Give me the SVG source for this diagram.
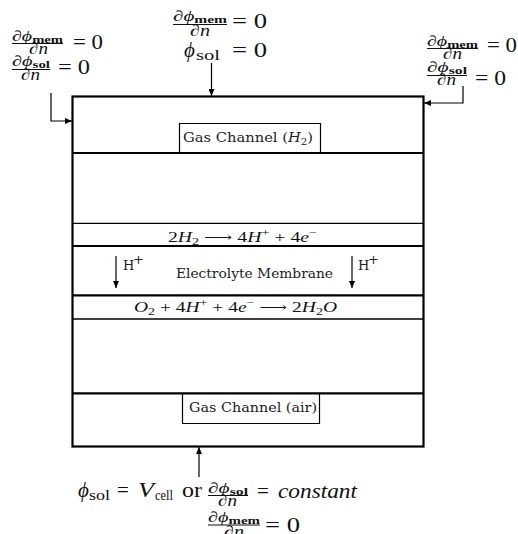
<svg xmlns="http://www.w3.org/2000/svg" width="518" height="534" viewBox="0 0 518 534">
<style>
.m{font-family:"Liberation Serif","DejaVu Serif",serif;fill:#111}
.it{font-style:italic}
.big{font-size:21px}
.num{font-size:15px}
.sub{font-size:11px;font-weight:bold}
.den{font-size:16px;font-style:italic}
.lbl{font-family:"DejaVu Serif","Liberation Serif",serif;font-size:13px;fill:#222}
.bar{stroke:#111;stroke-width:1}
.wall{stroke:#000;fill:none}
.conn{stroke:#000;stroke-width:1.2;fill:none}
</style>
<defs>
<marker id="ah" viewBox="0 0 7 6" refX="7" refY="3" markerWidth="7" markerHeight="6" markerUnits="userSpaceOnUse" orient="auto">
<path d="M0,0 L7,3 L0,6 z" fill="#000"/>
</marker>
</defs>
<rect width="518" height="534" fill="#fff"/>

<g id="cell">
<rect class="wall" x="72.5" y="96.5" width="351" height="350" stroke-width="2.2"/>
</g>
<g id="anode-gas-channel">
<line class="wall" x1="72" y1="153" x2="424" y2="153" stroke-width="2.2"/>
<path class="wall" d="M179.5,153 V123.5 H320.5 V153" stroke-width="1.2"/>
<text class="lbl" x="183" y="142" textLength="130" lengthAdjust="spacingAndGlyphs">Gas Channel (<tspan font-style="italic">H</tspan><tspan font-size="9" dy="3">2</tspan><tspan dy="-3">)</tspan></text>
</g>
<g id="anode-layer">
<line class="wall" x1="72" y1="223.3" x2="424" y2="223.3" stroke-width="1.3"/>
</g>
<g id="anode-reaction">
<line class="wall" x1="72" y1="246" x2="424" y2="246" stroke-width="2.2"/>
<text class="m" x="168" y="242" font-size="14" textLength="149" lengthAdjust="spacingAndGlyphs">2<tspan class="it">H</tspan><tspan font-size="10" dy="3">2</tspan><tspan dy="-3"> ⟶ 4</tspan><tspan class="it">H</tspan><tspan font-size="10" dy="-6">+</tspan><tspan dy="6"> + 4</tspan><tspan class="it">e</tspan><tspan font-size="10" dy="-6">−</tspan></text>
</g>
<g id="electrolyte-membrane">
<line class="wall" x1="72" y1="295.3" x2="424" y2="295.3" stroke-width="2.2"/>
<text class="lbl" x="176" y="278" textLength="157" lengthAdjust="spacingAndGlyphs">Electrolyte Membrane</text>
<text class="lbl" x="123" y="270" font-size="12">H</text>
<text class="lbl" x="133" y="264" font-size="12">+</text>
<text class="lbl" x="358" y="270" font-size="12">H</text>
<text class="lbl" x="368" y="264" font-size="12">+</text>
</g>
<g id="cathode-reaction">
<line class="wall" x1="72" y1="319" x2="424" y2="319" stroke-width="1.6"/>
<text class="m" x="134" y="312" font-size="14" textLength="203" lengthAdjust="spacingAndGlyphs"><tspan class="it">O</tspan><tspan font-size="10" dy="3">2</tspan><tspan dy="-3"> + 4</tspan><tspan class="it">H</tspan><tspan font-size="10" dy="-6">+</tspan><tspan dy="6"> + 4</tspan><tspan class="it">e</tspan><tspan font-size="10" dy="-6">−</tspan><tspan dy="6"> ⟶ 2</tspan><tspan class="it">H</tspan><tspan font-size="10" dy="3">2</tspan><tspan class="it" dy="-3">O</tspan></text>
</g>
<g id="cathode-layer">
<line class="wall" x1="72" y1="393.3" x2="424" y2="393.3" stroke-width="2.2"/>
</g>
<g id="cathode-gas-channel">
<path class="wall" d="M182.5,393 V423.5 H319.5 V393" stroke-width="1.2"/>
<text class="lbl" x="189" y="412" textLength="128" lengthAdjust="spacingAndGlyphs">Gas Channel (air)</text>
</g>

<g id="bc-top-left">
<text class="m num" x="12" y="41" textLength="51" lengthAdjust="spacingAndGlyphs"><tspan class="it">∂ϕ</tspan><tspan class="sub" dy="2">mem</tspan></text>
<line class="bar" x1="12" y1="43.5" x2="63" y2="43.5"/>
<text class="m den" x="29" y="54" textLength="19" lengthAdjust="spacingAndGlyphs">∂n</text>
<text class="m big" x="73" y="49" textLength="30" lengthAdjust="spacingAndGlyphs">= 0</text>
<text class="m num" x="12" y="66" textLength="38" lengthAdjust="spacingAndGlyphs"><tspan class="it">∂ϕ</tspan><tspan class="sub" dy="2">sol</tspan></text>
<line class="bar" x1="12" y1="69.5" x2="50" y2="69.5"/>
<text class="m den" x="21" y="80" textLength="19" lengthAdjust="spacingAndGlyphs">∂n</text>
<text class="m big" x="58" y="74" textLength="32" lengthAdjust="spacingAndGlyphs">= 0</text>
</g>
<g id="bc-top">
<text class="m num" x="173" y="21" textLength="54" lengthAdjust="spacingAndGlyphs"><tspan class="it">∂ϕ</tspan><tspan class="sub" dy="2">mem</tspan></text>
<line class="bar" x1="173" y1="24.5" x2="227" y2="24.5"/>
<text class="m den" x="190" y="36" textLength="20" lengthAdjust="spacingAndGlyphs">∂n</text>
<text class="m big" x="232" y="28" textLength="35" lengthAdjust="spacingAndGlyphs">= 0</text>
<text class="m big it" x="184" y="57">ϕ</text>
<text class="m" x="196" y="60" font-size="14" textLength="24" lengthAdjust="spacingAndGlyphs">sol</text>
<text class="m big" x="232" y="57" textLength="35" lengthAdjust="spacingAndGlyphs">= 0</text>
</g>
<g id="bc-top-right">
<text class="m num" x="427" y="46" textLength="51" lengthAdjust="spacingAndGlyphs"><tspan class="it">∂ϕ</tspan><tspan class="sub" dy="2">mem</tspan></text>
<line class="bar" x1="427" y1="48.5" x2="478" y2="48.5"/>
<text class="m den" x="443" y="59" textLength="19" lengthAdjust="spacingAndGlyphs">∂n</text>
<text class="m big" x="487" y="52" textLength="30" lengthAdjust="spacingAndGlyphs">= 0</text>
<text class="m num" x="427" y="72" textLength="40" lengthAdjust="spacingAndGlyphs"><tspan class="it">∂ϕ</tspan><tspan class="sub" dy="2">sol</tspan></text>
<line class="bar" x1="427" y1="75.5" x2="467" y2="75.5"/>
<text class="m den" x="437" y="85" textLength="19" lengthAdjust="spacingAndGlyphs">∂n</text>
<text class="m big" x="475" y="85" textLength="31" lengthAdjust="spacingAndGlyphs">= 0</text>
</g>
<g id="bc-bottom">
<text class="m big it" x="78" y="497">ϕ</text>
<text class="m" x="89" y="500" font-size="14" textLength="21" lengthAdjust="spacingAndGlyphs">sol</text>
<text class="m big" x="117" y="497">=</text>
<text class="m big it" x="138" y="497" textLength="16" lengthAdjust="spacingAndGlyphs">V</text>
<text class="m" x="155" y="500" font-size="14" textLength="18" lengthAdjust="spacingAndGlyphs">cell</text>
<text class="m big" x="182" y="497" textLength="20" lengthAdjust="spacingAndGlyphs">or</text>
<text class="m num" x="208" y="493" textLength="40" lengthAdjust="spacingAndGlyphs"><tspan class="it">∂ϕ</tspan><tspan class="sub" dy="2">sol</tspan></text>
<line class="bar" x1="208" y1="495.5" x2="248" y2="495.5"/>
<text class="m den" x="218" y="506" textLength="19" lengthAdjust="spacingAndGlyphs">∂n</text>
<text class="m big" x="257" y="498">=</text>
<text class="m big it" x="278" y="498" textLength="79" lengthAdjust="spacingAndGlyphs">constant</text>
<text class="m num" x="208" y="522" textLength="52" lengthAdjust="spacingAndGlyphs"><tspan class="it">∂ϕ</tspan><tspan class="sub" dy="2">mem</tspan></text>
<line class="bar" x1="208" y1="525" x2="260" y2="525"/>
<text class="m den" x="224" y="537" textLength="20" lengthAdjust="spacingAndGlyphs">∂n</text>
<text class="m big" x="265" y="532" textLength="35" lengthAdjust="spacingAndGlyphs">= 0</text>
</g>

<g id="connectors">
<path class="conn" d="M51,93 V121 H72" marker-end="url(#ah)"/>
<path class="conn" d="M211.5,63 V96" marker-end="url(#ah)"/>
<path class="conn" d="M463,86 V103 H424" marker-end="url(#ah)"/>
<path class="conn" d="M199,477 V447" marker-end="url(#ah)"/>
<path class="conn" d="M116,256 V288" marker-end="url(#ah)"/>
<path class="conn" d="M352,256 V288" marker-end="url(#ah)"/>
</g>
</svg>
